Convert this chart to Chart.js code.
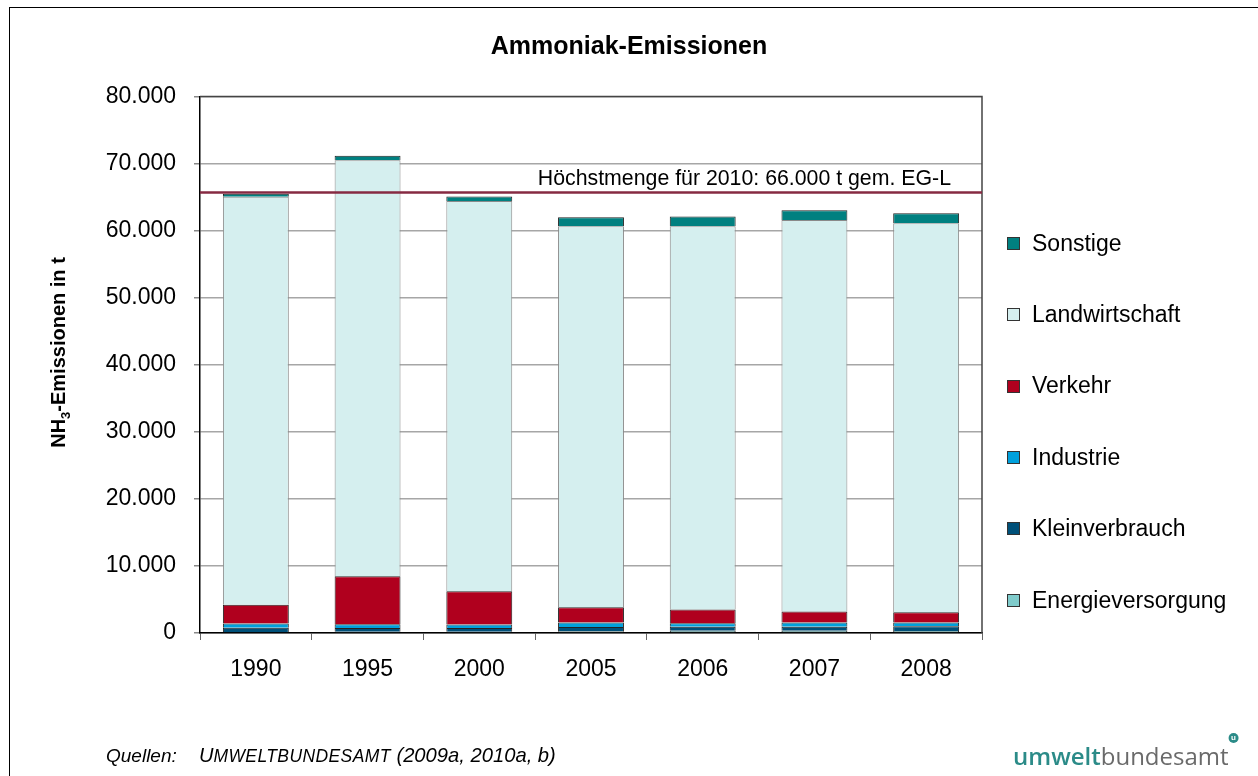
<!DOCTYPE html>
<html><head><meta charset="utf-8">
<script src="https://cdn.jsdelivr.net/npm/chart.js@4.4.0/dist/chart.umd.min.js"></script>
<style>html,body{margin:0;padding:0;background:#fff;overflow:hidden}</style>
</head><body>
<canvas id="c" width="1258" height="776"></canvas>
<script>
// ---- data (values in t) ----
const years = ['1990','1995','2000','2005','2006','2007','2008'];
const energieversorgung = [100, 200, 200, 250, 350, 350, 300];
const kleinverbrauch    = [700, 550, 550, 650, 600, 600, 700];
const industrie         = [600, 550, 500, 650, 500, 600, 550];
const verkehr           = [2800, 7150, 4970, 2290, 2040, 1640, 1550];
const landwirtschaft    = [60850, 62050, 58180, 56820, 57170, 58410, 58000];
const sonstige          = [450, 650, 670, 1340, 1430, 1440, 1500];
const yTickValues = [0, 10000, 20000, 30000, 40000, 50000, 60000, 70000, 80000];
const limitValue = 65700;
const limitLabel = 'Höchstmenge für 2010: 66.000 t gem. EG-L';
const titleText = 'Ammoniak-Emissionen';
const sourceText = ['Quellen:', 'U', 'MWELTBUNDESAMT', ' (2009a, 2010a, b)'];

const FAM = '"Liberation Sans", Arial, sans-serif';
Chart.defaults.font.family = FAM;
Chart.defaults.color = '#000';

function fmt(v){ return String(v).replace(/\B(?=(\d{3})+(?!\d))/g, '.'); }

function ds(label, data, color, border){
  return { label, data, backgroundColor: color, borderColor: border || '#222',
    borderWidth: 1, borderSkipped: 'start', barPercentage: 0.59, categoryPercentage: 1.0 };
}

const deco = {
  id: 'deco',
  beforeDraw(chart){
    const ctx = chart.ctx;
    ctx.save();
    ctx.fillStyle = '#fff';
    ctx.fillRect(0, 0, chart.width, chart.height);
    ctx.strokeStyle = '#000';
    ctx.lineWidth = 1;
    ctx.strokeRect(9.5, 7.5, 1300, 800);
    ctx.restore();
  },
  afterDatasetsDraw(chart){
    const ctx = chart.ctx, a = chart.chartArea, y = chart.scales.y;
    ctx.save();
    // plot frame top / right
    ctx.strokeStyle = '#444';
    ctx.lineWidth = 1.5;
    ctx.beginPath();
    ctx.moveTo(a.left, a.top); ctx.lineTo(a.right, a.top); ctx.lineTo(a.right, a.bottom);
    ctx.stroke();
    // limit line
    const ly = y.getPixelForValue(limitValue);
    ctx.strokeStyle = '#862a42';
    ctx.lineWidth = 2.5;
    ctx.beginPath(); ctx.moveTo(a.left, ly); ctx.lineTo(a.right, ly); ctx.stroke();
    ctx.fillStyle = '#000';
    ctx.font = '21.3px ' + FAM;
    ctx.textAlign = 'right';
    ctx.textBaseline = 'alphabetic';
    ctx.fillText(limitLabel, a.right - 31, ly - 7);
    ctx.restore();
  },
  afterDraw(chart){
    const ctx = chart.ctx;
    ctx.save();
    // title
    ctx.fillStyle = '#000';
    ctx.font = 'bold 25px ' + FAM;
    ctx.textAlign = 'center';
    ctx.textBaseline = 'alphabetic';
    ctx.fillText(titleText, 629, 54);

    // y axis title with subscript
    ctx.save();
    ctx.translate(65, 352.5);
    ctx.rotate(-Math.PI/2);
    const big = 'bold 20px ' + FAM, small = 'bold 13px ' + FAM;
    ctx.font = big; const w1 = ctx.measureText('NH').width;
    ctx.font = small; const w2 = ctx.measureText('3').width;
    ctx.font = big; const w3 = ctx.measureText('-Emissionen in t').width;
    let x0 = -(w1 + w2 + w3)/2;
    ctx.textAlign = 'left';
    ctx.font = big; ctx.fillText('NH', x0, 0);
    ctx.font = small; ctx.fillText('3', x0 + w1, 5);
    ctx.font = big; ctx.fillText('-Emissionen in t', x0 + w1 + w2, 0);
    ctx.restore();

    // legend (reverse of stacking order)
    const sets = chart.data.datasets.slice().reverse();
    ctx.font = '23px ' + FAM;
    ctx.textAlign = 'left';
    ctx.textBaseline = 'middle';
    sets.forEach((d, i) => {
      const cy = 243.3 + i * 71.4;
      ctx.fillStyle = d.backgroundColor;
      ctx.fillRect(1007, Math.round(cy - 6.5), 13, 13);
      ctx.strokeStyle = '#333'; ctx.lineWidth = 1;
      ctx.strokeRect(1007.5, Math.round(cy - 6.5) + 0.5, 12, 12);
      ctx.fillStyle = '#000';
      ctx.fillText(d.label, 1032, cy + 1);
    });

    // source line
    ctx.textBaseline = 'alphabetic';
    ctx.fillStyle = '#000';
    ctx.font = 'italic 19px ' + FAM;
    ctx.fillText(sourceText[0], 106, 762);
    let sx = 199;
    ctx.font = 'italic 20px ' + FAM;
    ctx.fillText(sourceText[1], sx, 762);
    sx += ctx.measureText(sourceText[1]).width;
    ctx.font = 'italic 17.5px ' + FAM;
    if ('letterSpacing' in ctx) ctx.letterSpacing = '0.4px';
    ctx.fillText(sourceText[2], sx, 762);
    sx += ctx.measureText(sourceText[2]).width;
    if ('letterSpacing' in ctx) ctx.letterSpacing = '0px';
    ctx.font = 'italic 20.2px ' + FAM;
    ctx.fillText(sourceText[3], sx, 762);

    // logo
    ctx.font = '600 24px "Open Sans", ' + FAM;
    ctx.fillStyle = '#2b8b88';
    ctx.fillText('umwelt', 1013, 765);
    const lw = ctx.measureText('umwelt').width;
    ctx.font = '24px "Open Sans", ' + FAM;
    ctx.fillStyle = '#6a6a6a';
    ctx.fillText('bundesamt', 1013 + lw, 765);
    const bw = ctx.measureText('bundesamt').width;
    const cx = 1013 + lw + bw + 5, ccy = 738;
    ctx.fillStyle = '#2b8b88';
    ctx.beginPath(); ctx.arc(cx, ccy, 5, 0, Math.PI*2); ctx.fill();
    ctx.fillStyle = '#fff';
    ctx.font = 'bold 8px ' + FAM;
    ctx.textAlign = 'center'; ctx.textBaseline = 'middle';
    ctx.fillText('u', cx, ccy);
    ctx.restore();
  }
};

new Chart(document.getElementById('c'), {
  type: 'bar',
  data: {
    labels: years,
    datasets: [
      ds('Energieversorgung', energieversorgung, '#80cccc'),
      ds('Kleinverbrauch', kleinverbrauch, '#005079'),
      ds('Industrie', industrie, '#00a0dc'),
      ds('Verkehr', verkehr, '#b0001e'),
      ds('Landwirtschaft', landwirtschaft, '#d5efef', '#8a8a8a'),
      ds('Sonstige', sonstige, '#008080')
    ]
  },
  options: {
    responsive: false,
    animation: false,
    devicePixelRatio: 1,
    layout: { padding: { top: 96.5, left: 0, right: 276, bottom: 0 } },
    plugins: { legend: { display: false }, title: { display: false }, tooltip: { enabled: false } },
    scales: {
      x: {
        stacked: true,
        grid: { display: true, drawOnChartArea: false, drawTicks: true, tickLength: 7, color: '#666', offset: true },
        border: { display: true, color: '#000', width: 1.5 },
        ticks: { font: { size: 23 }, color: '#000', padding: 16, maxRotation: 0 },
        afterFit: s => { s.height = 143; }
      },
      y: {
        stacked: true,
        min: 0, max: 80000,
        afterBuildTicks: s => { s.ticks = yTickValues.map(v => ({ value: v })); },
        ticks: { font: { size: 23 }, color: '#000', padding: 18, callback: v => fmt(v) },
        grid: { color: '#a6a6a6', lineWidth: 1.5, tickLength: 6, tickColor: '#888' },
        border: { display: true, color: '#000', width: 1.5 },
        afterFit: s => { s.width = 200; }
      }
    }
  },
  plugins: [deco]
});
</script>
</body></html>
